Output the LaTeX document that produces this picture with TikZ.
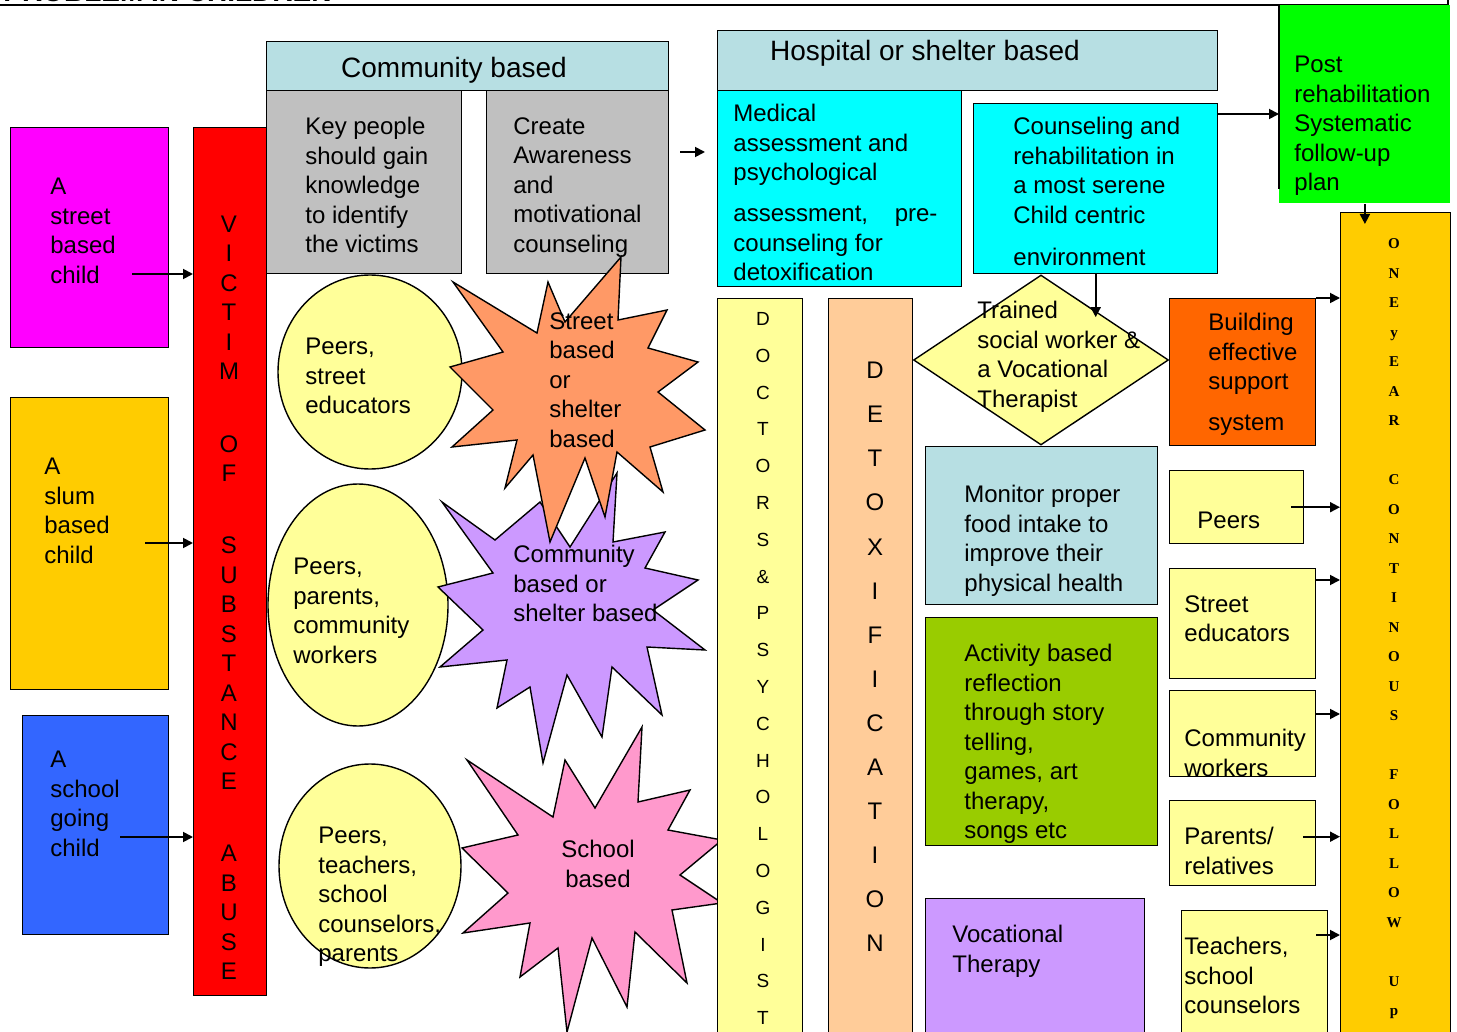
\documentclass[tikz,border=0pt]{standalone}
\usepackage{fontspec}
\setmainfont{Liberation Sans}
\newfontfamily\serifbold{Liberation Serif}
\usetikzlibrary{positioning,arrows.meta,shapes.geometric}
\definecolor{boxmagenta}{HTML}{FF00FF}
\definecolor{boxgold}{HTML}{FFCC00}
\definecolor{boxblue}{HTML}{3366FF}
\definecolor{boxred}{HTML}{FF0000}
\definecolor{headblue}{HTML}{B7DFE3}
\definecolor{boxgray}{HTML}{C0C0C0}
\definecolor{boxcyan}{HTML}{00FFFF}
\definecolor{boxgreen}{HTML}{00FF00}
\definecolor{paleyellow}{HTML}{FFFF99}
\definecolor{peach}{HTML}{FFCC99}
\definecolor{deeporange}{HTML}{FF6600}
\definecolor{olivegreen}{HTML}{99CC00}
\definecolor{lavender}{HTML}{CC99FF}
\definecolor{salmon}{HTML}{FF9966}
\definecolor{rosepink}{HTML}{FF99CC}

\begin{document}
\begin{tikzpicture}[x=0.5pt,y=-0.5pt,>={Triangle[length=5pt,width=5pt]},
  box/.style={draw,line width=0.7pt,inner sep=0pt,anchor=north west},
  sz/.style 2 args={minimum width=#1*0.5pt,minimum height=#2*0.5pt},
  txt/.style={font=\fontsize{12}{14.75}\selectfont,align=left,inner sep=0pt,anchor=north west,yshift=-1.75pt,execute at begin node=\strut},
  vtxt/.style={align=center,inner sep=0pt,anchor=north,execute at begin node=\strut},
  blob/.style={draw,line width=0.7pt,fill=paleyellow,ellipse,inner sep=0pt},
  star/.style={draw,line width=0.7pt,line join=miter},
  link/.style={->,line width=0.9pt}]
\useasboundingbox (0,0) rectangle (1457,1032);

% title, cut off at the top
\node[font=\bfseries\fontsize{14}{17}\selectfont,anchor=base east,inner sep=0pt] (title) at (332,2) {PROBLEM IN CHILDREN};
\draw[line width=0.7pt] (0,5) -- (1448,5);
\draw[line width=0.7pt] (1448,0) -- (1448,40);

% children and victim column
\node[box,fill=boxmagenta,sz={158}{220}] (street) at (10,127) {};
\node[box,fill=boxgold,sz={158}{292}] (slum) at (10,397) {};
\node[box,fill=boxblue,sz={146}{219}] (school) at (22,715) {};
\node[box,fill=boxred,sz={73}{868}] (victim) at (193,127) {};

% community based
\node[box,fill=headblue,sz={402}{49}] (commhead) at (266,41) {};
\node[box,fill=boxgray,sz={195}{183}] (keypeople) at (266,90) {};
\node[box,fill=boxgray,sz={182}{183}] (awareness) at (486,90) {};

% hospital or shelter based
\node[box,fill=headblue,sz={500}{60}] (hosphead) at (717,30) {};
\node[box,fill=boxcyan,sz={244}{196}] (medical) at (717,90) {};
\node[box,fill=boxcyan,sz={244}{170}] (counsel) at (973,103) {};
\node[anchor=north west,inner sep=0pt,fill=boxgreen,sz={171}{198}] (post) at (1279,5) {};
\draw[line width=0.7pt] (post.north west) -- ([yshift=7.5pt]post.south west);

% peers
\node[blob,sz={184}{194}] (peerstreet) at (370,372) {};
\node[blob,sz={180}{242}] (peerparent) at (358,605) {};
\node[blob,sz={182}{204}] (peerteacher) at (370,866) {};

% starbursts
\filldraw[star,fill=lavender] (442,502) -- (495,540) -- (540,502) -- (570,547) -- (617,473) -- (613,542)
  -- (665,532) -- (645,568) -- (698,580) -- (653,610) -- (705,650) -- (647,647) -- (662,715)
  -- (612,667) -- (602,737) -- (567,675) -- (543,763) -- (530,687) -- (497,708) -- (507,660)
  -- (440,667) -- (483,630) -- (438,587) -- (493,573) -- cycle;
\filldraw[star,fill=salmon] (453,282) -- (537,333) -- (548,282) -- (565,322) -- (621,257) -- (618,320)
  -- (667,310) -- (648,348) -- (698,362) -- (658,392) -- (705,430) -- (650,447) -- (663,492)
  -- (617,452) -- (605,517) -- (585,458) -- (550,542) -- (533,455) -- (505,488) -- (517,440)
  -- (452,447) -- (493,410) -- (450,367) -- (503,352) -- cycle;
\filldraw[star,fill=rosepink] (467,760) -- (553,817) -- (565,760) -- (595,808) -- (642,727) -- (638,802)
  -- (690,790) -- (668,830) -- (722,840) -- (680,875) -- (722,903) -- (672,910) -- (687,983)
  -- (635,932) -- (627,1007) -- (592,938) -- (567,1032) -- (558,948) -- (520,977) -- (530,923)
  -- (463,933) -- (508,893) -- (462,848) -- (518,835) -- cycle;

% long columns
\node[box,fill=paleyellow,sz={85}{740}] (doctors) at (717,298) {};
\node[box,fill=peach,sz={84}{740}] (detox) at (828,298) {};
\node[box,fill=boxgold,sz={110}{830}] (followup) at (1340,212) {};

% treatment boxes
\node[draw,line width=0.7pt,fill=paleyellow,diamond,inner sep=0pt,sz={255}{170}] (trained) at (1041,360) {};
\node[box,fill=deeporange,sz={146}{147}] (building) at (1169,298) {};
\node[box,fill=headblue,sz={232}{158}] (monitor) at (925,446) {};
\node[box,fill=olivegreen,sz={232}{228}] (activity) at (925,617) {};
\node[box,fill=lavender,sz={219}{140}] (vocational) at (925,898) {};

% support boxes
\node[box,fill=paleyellow,sz={134}{73}] (peersbox) at (1169,470) {};
\node[box,fill=paleyellow,sz={146}{110}] (educbox) at (1169,568) {};
\node[box,fill=paleyellow,sz={146}{86}] (commbox) at (1169,690) {};
\node[box,fill=paleyellow,sz={146}{85}] (parentbox) at (1169,800) {};
\node[box,fill=paleyellow,sz={146}{130}] (teachbox) at (1181,910) {};

% texts
\node[txt] (streettxt) at (50,174.4) {A\\street\\based\\child};
\node[txt] (slumtxt) at (44,454.4) {A\\slum\\based\\child};
\node[txt] (schooltxt) at (50,747.4) {A\\school\\going\\child};
\node[vtxt,font=\fontsize{12}{14.75}\selectfont] (victimtxt) at (229,215.5)
  {V\\I\\C\\T\\I\\M\\[21.3pt]O\\F\\[21.3pt]S\\U\\B\\S\\T\\A\\N\\C\\E\\[21.3pt]A\\B\\U\\S\\E};
\node[font=\fontsize{14}{17}\selectfont,anchor=base,inner sep=0pt] (commtxt) at (454,78) {Community based};
\node[txt] (keytxt) at (305,113.4) {Key people\\should gain\\knowledge\\to identify\\the victims};
\node[txt] (awaretxt) at (513,113.4) {Create\\Awareness\\and\\motivational\\counseling};
\node[font=\fontsize{14}{17}\selectfont,anchor=base,inner sep=0pt] (hosptxt) at (925,61) {Hospital or shelter based};
\node[txt] (medtxt) at (733,100.4) {Medical\\assessment and\\psychological\\[5.7pt]assessment,\ \ \ \ pre-\\counseling for\\detoxification};
\node[txt] (counseltxt) at (1013,113.4) {Counseling and\\rehabilitation in\\a most serene\\Child centric\\[6.2pt]environment};
\node[txt] (posttxt) at (1294,52.4) {Post\\rehabilitation\\Systematic\\follow-up\\plan};
\node[txt] (peerstreettxt) at (305,334.4) {Peers,\\street\\educators};
\node[txt] (peerparenttxt) at (293,554.4) {Peers,\\parents,\\community\\workers};
\node[txt] (peerteachertxt) at (318,823.4) {Peers,\\teachers,\\school\\counselors,\\parents};
\node[txt] (streetstartxt) at (549,308.4) {Street\\based\\or\\shelter\\based};
\node[txt] (commstartxt) at (513,541.4) {Community\\based or\\shelter based};
\node[txt,align=center,anchor=north] (schoolstartxt) at (598,836.4) {School\\based};
\node[vtxt,font=\fontsize{9.5}{18.4}\selectfont] (doctorstxt) at (763,312)
  {D\\O\\C\\T\\O\\R\\S\\\&\\P\\S\\Y\\C\\H\\O\\L\\O\\G\\I\\S\\T};
\node[vtxt,font=\fontsize{12}{22.05}\selectfont] (detoxtxt) at (875,361.7)
  {D\\E\\T\\O\\X\\I\\F\\I\\C\\A\\T\\I\\O\\N};
\node[vtxt,font=\serifbold\bfseries\fontsize{7.5}{14.75}\selectfont] (followtxt) at (1394,238.4)
  {O\\N\\E\\y\\E\\A\\R\\[14.75pt]C\\O\\N\\T\\I\\N\\O\\U\\S\\[14.75pt]F\\O\\L\\L\\O\\W\\[14.75pt]U\\p};
\node[txt] (trainedtxt) at (977,297.4) {Trained\\social worker \&\\a Vocational\\Therapist};
\node[txt] (buildtxt) at (1208,309.4) {Building\\effective\\support\\[5.5pt]system};
\node[txt] (monitortxt) at (964,481.4) {Monitor proper\\food intake to\\improve their\\physical health};
\node[txt] (activitytxt) at (964,640.4) {Activity based\\reflection\\through story\\telling,\\games, art\\therapy,\\songs etc};
\node[txt] (vocationaltxt) at (952,921.4) {Vocational\\Therapy};
\node[txt] (peerstxt) at (1197,504.4) {Peers};
\node[txt] (eductxt) at (1184,591.4) {Street\\educators};
\node[txt] (commworktxt) at (1184,725.4) {Community\\workers};
\node[txt] (parenttxt) at (1184,823.4) {Parents/\\relatives};
\node[txt] (teachtxt) at (1184,933.4) {Teachers,\\school\\counselors};

% arrows
\coordinate (sa) at (132,274);
\coordinate (sb) at (145,543);
\coordinate (sc) at (120,837);
\draw[link] (sa) -- (sa -| victim.west);
\draw[link] (sb) -- (sb -| victim.west);
\draw[link] (sc) -- (sc -| victim.west);
\coordinate (ha) at (680,152);
\draw[link] (ha) -- ([xshift=-6pt]ha -| medical.west);
\draw[link] ([yshift=-5.5pt]counsel.north east) coordinate (ca) -- (ca -| post.west);
\draw[link] (post.south) -- ([yshift=-6pt]post.south |- followup.north);
\draw[link] (counsel.south) -- (counsel.south |- trained.north east);
\draw[link] (building.north east) -- (building.north east -| followup.west);
\draw[link] ([xshift=-6.5pt]peersbox.east) coordinate (pb) -- (pb -| followup.west);
\draw[link] ([yshift=-6pt]educbox.north east) coordinate (ea) -- (ea -| followup.west);
\draw[link] ([yshift=-12pt]commbox.north east) coordinate (wa) -- (wa -| followup.west);
\draw[link] ([xshift=-6.5pt,yshift=3.25pt]parentbox.east) coordinate (pa) -- (pa -| followup.west);
\draw[link] ([xshift=-6pt,yshift=-12.5pt]teachbox.north east) coordinate (ta) -- (ta -| followup.west);
\end{tikzpicture}
\end{document}
